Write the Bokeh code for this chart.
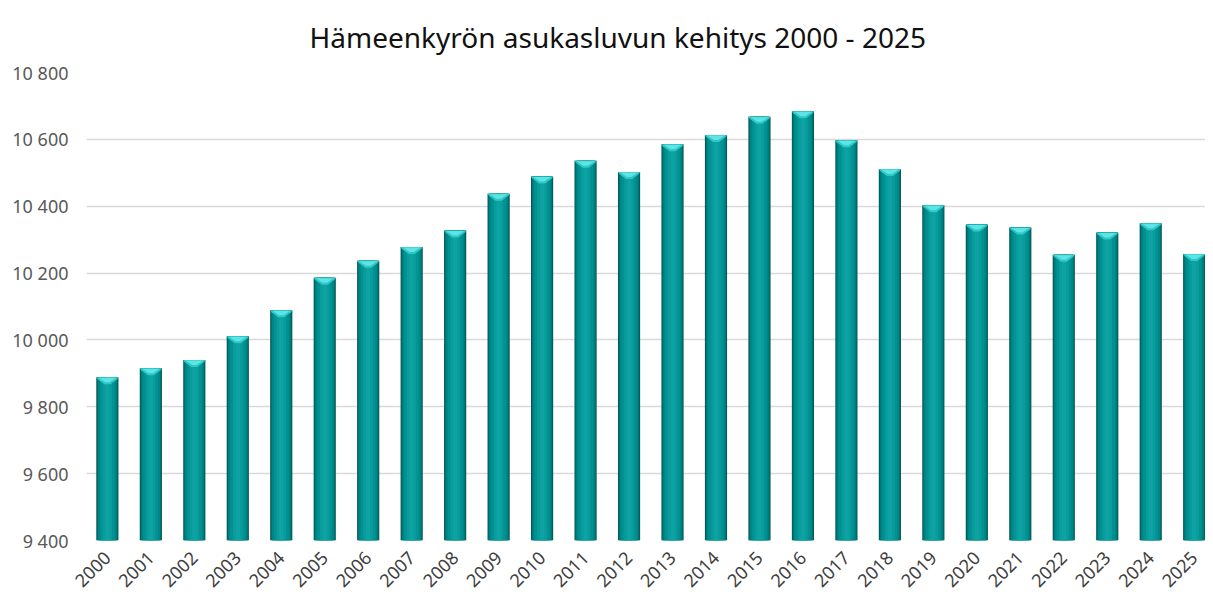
import math
from bokeh.plotting import figure
from bokeh.models import ColumnDataSource, Range1d, FixedTicker
from bokeh.embed import file_html
from bokeh.resources import INLINE

years = [str(y) for y in range(2000, 2026)]
population = [9888, 9915, 9940, 10011, 10089, 10186, 10237, 10278, 10327, 10437,
              10489, 10536, 10502, 10585, 10613, 10668, 10684, 10597, 10511, 10403,
              10345, 10336, 10255, 10321, 10349, 10257]
y_ticks = [9400, 9600, 9800, 10000, 10200, 10400, 10600, 10800]
y_tick_labels = ["9 400", "9 600", "9 800", "10 000", "10 200", "10 400", "10 600", "10 800"]
title_text = "Hämeenkyrön asukasluvun kehitys 2000 - 2025"

idx = list(range(len(years)))
base = y_ticks[0]
src = ColumnDataSource(dict(x=idx, top=population, bottom=[base] * len(idx)))

p = figure(width=1205, height=597, output_backend="svg", toolbar_location=None,
           x_range=Range1d(-0.48, 25.26), y_range=Range1d(y_ticks[0], y_ticks[-1]),
           min_border_left=86, min_border_right=0, min_border_top=72, min_border_bottom=57)
p.outline_line_color = None
p.background_fill_color = "white"
p.border_fill_color = "white"

p.title.text = title_text
p.title.align = "left"
p.title.offset = 223
p.title.vertical_align = "top"
p.title.text_font = "Noto Sans"
p.title.text_font_size = "28px"
p.title.text_font_style = "normal"
p.title.text_color = "#111111"
p.title.standoff = 30

# bars with cylindrical shading
layers = [(0.51, "#005858"), (0.47, "#007373"), (0.42, "#008585"),
          (0.34, "#009292"), (0.22, "#089c9c"), (0.10, "#0fa2a2")]
for w, c in layers:
    p.vbar(x="x", width=w, top="top", bottom="bottom", source=src,
           fill_color=c, line_color=None)

# bevelled top caps
px = (y_ticks[-1] - y_ticks[0]) / 468.0
xs, ys, xs2, ys2 = [], [], [], []
for i, v in zip(idx, population):
    hw = 0.255
    xs.append([i - hw, i + hw, i + hw - 0.03, i + 0.07, i - 0.07, i - hw + 0.03])
    ys.append([v, v, v - 2 * px, v - 7 * px, v - 7 * px, v - 2 * px])
    xs2.append([i - hw + 0.05, i + hw - 0.05, i + 0.05, i - 0.05])
    ys2.append([v - 0.5 * px, v - 0.5 * px, v - 5 * px, v - 5 * px])
p.patches(xs, ys, fill_color="#2cc8c8", line_color=None)
p.patches(xs2, ys2, fill_color="#5fe3e3", line_color=None)

# axes
p.xaxis.ticker = FixedTicker(ticks=idx)
p.xaxis.major_label_overrides = {i: y for i, y in zip(idx, years)}
p.xaxis.major_label_orientation = math.pi / 4
p.xaxis.axis_line_color = None
p.xaxis.major_tick_line_color = None
p.xaxis.minor_tick_line_color = None
p.xaxis.major_label_text_font = "Noto Sans"
p.xaxis.major_label_text_font_size = "18px"
p.xaxis.major_label_text_color = "#404040"
p.xaxis.major_label_standoff = 8

p.yaxis.ticker = FixedTicker(ticks=y_ticks)
p.yaxis.major_label_overrides = {t: l for t, l in zip(y_ticks, y_tick_labels)}
p.yaxis.axis_line_color = None
p.yaxis.major_tick_line_color = None
p.yaxis.minor_tick_line_color = None
p.yaxis.major_label_text_font = "Noto Sans"
p.yaxis.major_label_text_font_size = "18px"
p.yaxis.major_label_text_color = "#595959"
p.yaxis.major_label_standoff = 12

p.xgrid.grid_line_color = None
p.ygrid.grid_line_color = "#d9d9d9"
p.ygrid.grid_line_width = 1.5

open("out.html", "w").write(file_html(p, INLINE))
